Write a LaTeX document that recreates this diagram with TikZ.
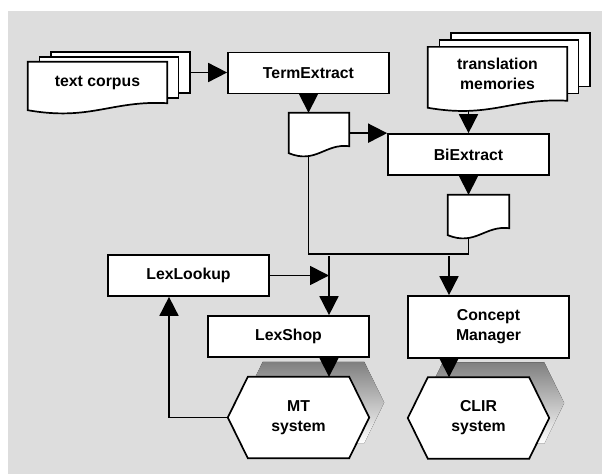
\documentclass[tikz,border=0pt]{standalone}
\usepackage{fontspec}
\setmainfont{Liberation Sans}
\usetikzlibrary{arrows.meta,calc}
\tikzset{>={Triangle[length=19pt,width=19pt]}}

\definecolor{paper}{HTML}{DDDDDD}
\definecolor{shade}{HTML}{808080}

\pgfdeclarelayer{background}
\pgfdeclarelayer{shapes}
\pgfsetlayers{background,shapes,main}

\tikzset{%
  boxline/.style={draw=black, fill=white, line width=1.7pt},
  link/.style={draw=black, line width=1.7pt},
  proc/.style={boxline, rectangle, minimum width=161pt, minimum height=41pt, inner sep=0pt, align=center},
  backdoc/.style={boxline, rectangle, inner sep=0pt},
  docbody/.style={rectangle, inner sep=0pt, align=center},
  hexbody/.style={rectangle, minimum width=141pt, minimum height=81pt, inner sep=0pt, align=center}
}

% document with a wavy lower edge: name, centre, width, height, text
\newcommand{\docnode}[5]{%
  \node[docbody, minimum width=#3, minimum height=#4] (#1) at #2 {#5};
  \begin{pgfonlayer}{shapes}
    \filldraw[boxline] (#1.north west) -- (#1.north east) -- (#1.south east)
      .. controls ($(#1.south west)!0.6!(#1.south east)+(0,-3)$)
      and ($(#1.south west)!0.45!(#1.south east)+(0,18)$)
      .. ([yshift=-7pt]#1.south west) -- cycle;
  \end{pgfonlayer}
}

% pile of three documents: name, centre, width, height, dx, dy, text
\newcommand{\docstack}[7]{%
  \begin{pgfonlayer}{shapes}
    \node[backdoc, minimum width=#3, minimum height=#4] (#1-back) at ($#2+(2*#5,2*#6)$) {};
    \node[backdoc, minimum width=#3, minimum height=#4] (#1-mid) at ($#2+(#5,#6)$) {};
  \end{pgfonlayer}
  \docnode{#1}{#2}{#3}{#4}{#7}
}

% hexagon with a drop shadow: name, centre, text
\newcommand{\hexnode}[3]{%
  \node[hexbody] (#1) at #2 {#3};
  \begin{pgfonlayer}{background}
    \fill[shade] ([shift={(15pt,15pt)}]#1.west) -- ([shift={(35pt,15pt)}]#1.north west)
      -- ([shift={(-5pt,15pt)}]#1.north east) -- ([shift={(15pt,15pt)}]#1.east)
      -- ([shift={(-5pt,15pt)}]#1.south east) -- ([shift={(35pt,15pt)}]#1.south west) -- cycle;
  \end{pgfonlayer}
  \begin{pgfonlayer}{shapes}
    \filldraw[boxline] (#1.west) -- ([xshift=20pt]#1.north west) -- ([xshift=-20pt]#1.north east)
      -- (#1.east) -- ([xshift=-20pt]#1.south east) -- ([xshift=20pt]#1.south west) -- cycle;
  \end{pgfonlayer}
}

\begin{document}
\begin{tikzpicture}[x=1pt, y=-1pt, font=\fontsize{15.8}{20}\selectfont\bfseries]

  \useasboundingbox (0,0) rectangle (602,474);
  \begin{pgfonlayer}{background}
    \fill[paper] (8,11) rectangle (602,474);
  \end{pgfonlayer}

  % inputs
  \docstack{corpus}{(97.5,82.5)}{139pt}{41pt}{11.5}{-5}{text corpus}
  \docstack{tm}{(497.5,73.8)}{139pt}{53.5pt}{11.5}{-7}{translation\\memories}

  % extraction steps and their output lists
  \node[proc] (termextract) at (308.5,73) {TermExtract};
  \docnode{terms}{(319,129.5)}{60pt}{33pt}{}
  \node[proc] (biextract) at (468.5,154.5) {BiExtract};
  \docnode{pairs}{(478.5,211.5)}{61pt}{33pt}{}

  % tools
  \node[proc] (lexlookup) at (188.5,275.5) {LexLookup};
  \node[proc] (lexshop) at (288.5,336.5) {LexShop};
  \node[proc, minimum height=62pt] (concept) at (488.5,327) {Concept\\Manager};

  % target systems
  \hexnode{mt}{(298.5,417.5)}{MT\\system}
  \hexnode{clir}{(478.5,418)}{CLIR\\system}

  % junctions on the collecting line
  \coordinate (j1) at (termextract.south |- lexlookup.north);
  \coordinate (j2) at (biextract.south |- lexlookup.north);
  \coordinate (mtin) at (329,256);
  \coordinate (clirin) at (449,256);

  \begin{pgfonlayer}{background}
    \draw[link, ->] (corpus-back.east) -- (termextract.west |- corpus-back.east);
    \draw[link, ->] (termextract.south) -- (termextract.south |- terms.north);
    \draw[link, ->] (biextract.north west -| terms.east) -- (biextract.north west);
    \draw[link, ->] (biextract.north |- tm.south) -- (biextract.north);
    \draw[link, ->] (biextract.south) -- (biextract.south |- pairs.north);

    % both lists feed the same line
    \draw[link] (termextract.south |- terms.south) -- (j1) -- (j2) -- (biextract.south |- pairs.south);
    \draw[link, ->] (mtin) -- (mtin |- lexshop.north);
    \draw[link, ->] (clirin) -- (clirin |- concept.north);
    \draw[link, ->] (lexlookup.east) -- (lexlookup.east -| mtin);

    \draw[link, ->] (mtin |- lexshop.south) -- (mtin |- mt.north);
    \draw[link, ->] (clirin |- concept.south) -- (clirin |- clir.north);
    \draw[link, ->] (mt.west) -| ([xshift=-19.5pt]lexlookup.south);
  \end{pgfonlayer}

\end{tikzpicture}
\end{document}
